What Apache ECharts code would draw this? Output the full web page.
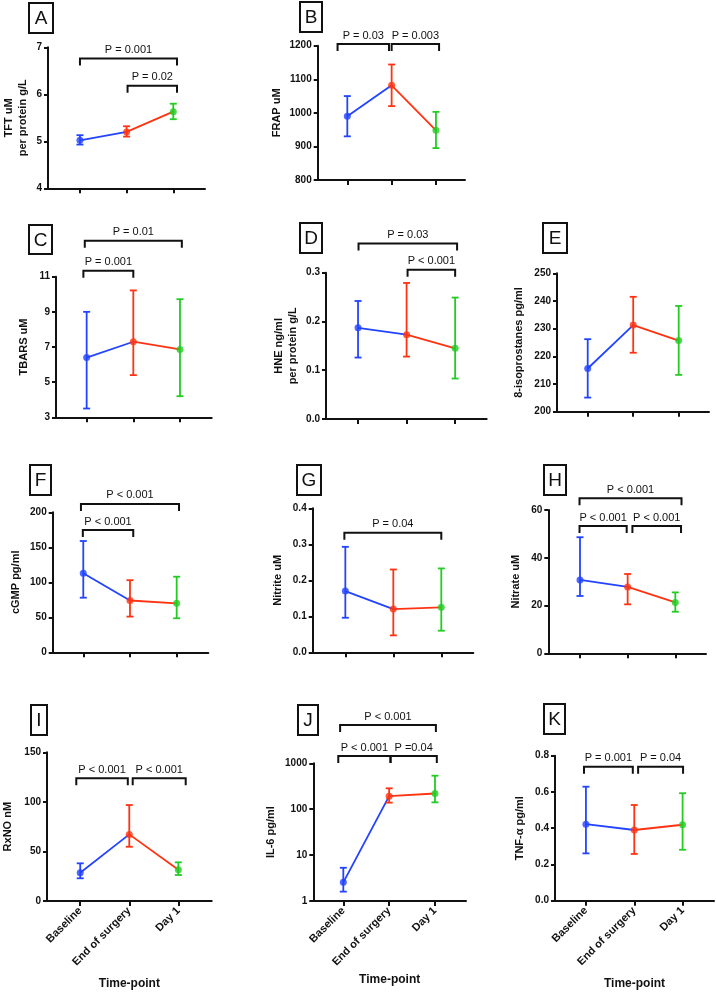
<!DOCTYPE html>
<html><head><meta charset="utf-8">
<script src="https://cdn.jsdelivr.net/npm/echarts@6/dist/echarts.min.js"></script>
<style>html,body{margin:0;padding:0;background:#fff}#c{width:716px;height:992px}</style>
</head><body><div id="c"></div>
<script>
const categories = ['Baseline', 'End of surgery', 'Day 1'];

// A: TFT
const tftMean = [5.02, 5.20, 5.63], tftLow = [4.93, 5.10, 5.47], tftHigh = [5.13, 5.32, 5.80];
const tftP = [[0, 2.08, 6.76, 'P = 0.001'], [1.02, 2.08, 6.18, 'P = 0.02']];
// B: FRAP
const frapMean = [990, 1082, 948], frapLow = [930, 1020, 895], frapHigh = [1050, 1144, 1003];
const frapP = [[-0.22, 0.94, 1205, 'P = 0.03'], [1.0, 2.07, 1205, 'P = 0.003']];
// C: TBARS
const tbarsMean = [6.4, 7.3, 6.86], tbarsLow = [3.5, 5.4, 4.2], tbarsHigh = [9.0, 10.22, 9.72];
const tbarsP = [[-0.07, 1.0, 11.34, 'P = 0.001'], [-0.04, 2.04, 13.05, 'P = 0.01']];
// D: HNE
const hneMean = [0.187, 0.173, 0.145], hneLow = [0.126, 0.128, 0.083], hneHigh = [0.242, 0.279, 0.249];
const hneP = [[1.02, 2.0, 0.306, 'P < 0.001'], [0.01, 2.04, 0.36, 'P = 0.03']];
// E: 8-isoprostanes
const isoMean = [215.6, 231.3, 225.7], isoLow = [205.1, 221.3, 213.3], isoHigh = [226.2, 241.5, 238.2];
const isoP = [];
// F: cGMP
const cgmpMean = [113, 74, 70], cgmpLow = [78, 51, 48.6], cgmpHigh = [159, 103, 108];
const cgmpP = [[-0.01, 1.07, 174.7, 'P < 0.001'], [-0.05, 2.05, 212, 'P < 0.001']];
// G: Nitrite
const nitriteMean = [0.170, 0.120, 0.125], nitriteLow = [0.096, 0.047, 0.060], nitriteHigh = [0.293, 0.230, 0.233];
const nitriteP = [[-0.02, 2.0, 0.332, 'P = 0.04']];
// H: Nitrate
const nitrateMean = [30.7, 27.8, 21.3], nitrateLow = [24, 20.5, 17.4], nitrateHigh = [48.6, 33.2, 25.5];
const nitrateP = [[-0.01, 0.98, 53.3, 'P < 0.001'], [1.1, 2.12, 53.3, 'P < 0.001'], [-0.01, 2.13, 64.9, 'P < 0.001']];
// I: RxNO
const rxnoMean = [28.5, 67.2, 31.5], rxnoLow = [22.9, 54.7, 26.2], rxnoHigh = [38, 96.8, 39];
const rxnoP = [[-0.08, 0.97, 123.7, 'P < 0.001'], [1.07, 2.15, 123.7, 'P < 0.001']];
// J: IL-6
const il6Mean = [2.55, 192, 220], il6Low = [1.6, 139, 141], il6High = [5.3, 285, 537];
const il6P = [[-0.11, 1.03, 1442, 'P < 0.001'], [1.03, 2.04, 1442, 'P =0.04'], [-0.07, 2.02, 6830, 'P < 0.001']];
// K: TNF-alpha
const tnfMean = [0.422, 0.390, 0.419], tnfLow = [0.261, 0.258, 0.281], tnfHigh = [0.629, 0.528, 0.593];
const tnfP = [[-0.04, 0.97, 0.739, 'P = 0.001'], [1.08, 2.01, 0.739, 'P = 0.04']];

const COLORS = ['#2244ff', '#ff3311', '#22cc22'];
const FONT = 'Liberation Sans, Arial, sans-serif';

const panels = [
  {key:'A', mean:tftMean, low:tftLow, high:tftHigh, p:tftP, name:'TFT uM\nper protein g/L', ymin:4, ymax:7, yint:1, dec:0,
   layout:{left:48, top:47.3, width:157, height:141, xmin:-0.685, xmax:2.68, gap:18, box:[29,3,24,30]}},
  {key:'B', mean:frapMean, low:frapLow, high:frapHigh, p:frapP, name:'FRAP uM', ymin:800, ymax:1200, yint:100, dec:0,
   layout:{left:317.7, top:45.7, width:147.3, height:134.3, xmin:-0.668, xmax:2.655, gap:34, box:[300,2,22,30]}},
  {key:'C', mean:tbarsMean, low:tbarsLow, high:tbarsHigh, p:tbarsP, name:'TBARS uM', ymin:3, ymax:11, yint:2, dec:0,
   layout:{left:56, top:276.7, width:155.7, height:140.6, xmin:-0.657, xmax:2.68, gap:25, box:[29,225,23,29]}},
  {key:'D', mean:hneMean, low:hneLow, high:hneHigh, p:hneP, name:'HNE ng/ml\nper protein g/L', ymin:0, ymax:0.3, yint:0.1, dec:1,
   layout:{left:326, top:272.7, width:160.7, height:146.3, xmin:-0.66, xmax:2.65, gap:26, box:[300,223,22,30]}},
  {key:'E', mean:isoMean, low:isoLow, high:isoHigh, p:isoP, name:'8-isoprostanes pg/ml', ymin:200, ymax:250, yint:10, dec:0,
   layout:{left:557, top:273.3, width:152, height:138.4, xmin:-0.675, xmax:2.666, gap:31, box:[543,223,24,30]}},
  {key:'F', mean:cgmpMean, low:cgmpLow, high:cgmpHigh, p:cgmpP, name:'cGMP pg/ml', ymin:0, ymax:200, yint:50, dec:0,
   layout:{left:52.7, top:512.3, width:155.6, height:140, xmin:-0.655, xmax:2.677, gap:30, box:[30,465,21,30]}},
  {key:'G', mean:nitriteMean, low:nitriteLow, high:nitriteHigh, p:nitriteP, name:'Nitrite uM', ymin:0, ymax:0.4, yint:0.1, dec:1,
   layout:{left:312.7, top:508.3, width:160.6, height:144, xmin:-0.68, xmax:2.667, gap:27.5, box:[297,465,24,30]}},
  {key:'H', mean:nitrateMean, low:nitrateLow, high:nitrateHigh, p:nitrateP, name:'Nitrate uM', ymin:0, ymax:60, yint:20, dec:0,
   layout:{left:548.3, top:510, width:157.7, height:143.3, xmin:-0.665, xmax:2.644, gap:25, box:[544,465,22,30]}},
  {key:'I', mean:rxnoMean, low:rxnoLow, high:rxnoHigh, p:rxnoP, name:'RxNO nM', ymin:0, ymax:150, yint:50, dec:0, bottom:true,
   layout:{left:46.7, top:752.3, width:165, height:148.7, xmin:-0.677, xmax:2.68, gap:32, box:[31,705,16,30], xgap:77}},
  {key:'J', mean:il6Mean, low:il6Low, high:il6High, p:il6P, name:'IL-6 pg/ml', ymin:1, ymax:1000, log:true, dec:0, bottom:true,
   layout:{left:313.3, top:763.3, width:152.7, height:137.7, xmin:-0.655, xmax:2.677, gap:35, box:[298,705,20,30], xgap:73}},
  {key:'K', mean:tnfMean, low:tnfLow, high:tnfHigh, p:tnfP, name:'TNF-\u03b1 pg/ml', ymin:0, ymax:0.8, yint:0.2, dec:1, bottom:true,
   layout:{left:555, top:755.7, width:159, height:145, xmin:-0.64, xmax:2.65, gap:28, box:[544,704,21,30], xgap:77}}
];

const grid = [], xAxis = [], yAxis = [], series = [], graphic = [];

function errRender(params, api) {
  const x = api.value(0), lo = api.value(1), hi = api.value(2);
  const a = api.coord([x, lo]), b = api.coord([x, hi]);
  const w = 3.5, c = COLORS[params.dataIndex];
  const st = {stroke: c, lineWidth: 1.8};
  return {type: 'group', children: [
    {type: 'line', shape: {x1: a[0], y1: a[1], x2: b[0], y2: b[1]}, style: st},
    {type: 'line', shape: {x1: a[0] - w, y1: a[1], x2: a[0] + w, y2: a[1]}, style: st},
    {type: 'line', shape: {x1: b[0] - w, y1: b[1], x2: b[0] + w, y2: b[1]}, style: st}
  ]};
}

function bracketRender(list) {
  return function (params, api) {
    const br = list[params.dataIndex];
    const p1 = api.coord([api.value(0), api.value(2)]);
    const p2 = api.coord([api.value(1), api.value(2)]);
    const leg = 7;
    return {type: 'group', children: [
      {type: 'polyline', shape: {points: [[p1[0], p1[1] + leg], [p1[0], p1[1]], [p2[0], p2[1]], [p2[0], p2[1] + leg]]},
       style: {stroke: '#111', lineWidth: 2, fill: null}},
      {type: 'text', x: (p1[0] + p2[0]) / 2, y: p1[1] - 3,
       style: {text: br[3], align: 'center', verticalAlign: 'bottom', font: '11px ' + FONT, fill: '#111'}}
    ]};
  };
}

panels.forEach((pn, i) => {
  const L = pn.layout;
  grid.push({left: L.left, top: L.top, width: L.width, height: L.height});
  xAxis.push({
    type: 'value', gridIndex: i, min: L.xmin, max: L.xmax,
    axisLine: {show: true, onZero: false, lineStyle: {color: '#111', width: 2}},
    axisTick: {show: true, customValues: [0, 1, 2], length: 5, lineStyle: {color: '#111', width: 2}},
    axisLabel: pn.bottom ? {show: true, customValues: [0, 1, 2], formatter: v => categories[Math.round(v)],
      rotate: 45, fontWeight: 'bold', fontSize: 11, fontFamily: FONT, color: '#111', margin: 8} : {show: false},
    splitLine: {show: false},
    name: pn.bottom ? 'Time-point' : '', nameLocation: 'middle', nameGap: L.xgap || 30,
    nameTextStyle: {fontWeight: 'bold', fontSize: 12, fontFamily: FONT, color: '#111'}
  });
  const ya = {
    gridIndex: i, min: pn.ymin, max: pn.ymax,
    axisLine: {show: true, onZero: false, lineStyle: {color: '#111', width: 2}},
    axisTick: {show: true, length: 4, lineStyle: {color: '#111', width: 2}},
    axisLabel: {fontWeight: 'bold', fontSize: 10, fontFamily: FONT, color: '#111', margin: 6,
      formatter: v => pn.dec ? Number(v).toFixed(pn.dec) : String(Math.round(v))},
    splitLine: {show: false},
    name: pn.name, nameLocation: 'middle', nameRotate: 90, nameGap: L.gap,
    nameTextStyle: {fontWeight: 'bold', fontSize: 11, fontFamily: FONT, color: '#111', lineHeight: 14}
  };
  if (pn.log) { ya.type = 'log'; ya.logBase = 10; } else { ya.type = 'value'; ya.interval = pn.yint; }
  yAxis.push(ya);

  series.push({type: 'line', xAxisIndex: i, yAxisIndex: i, data: [[0, pn.mean[0]], [1, pn.mean[1]]],
    showSymbol: false, lineStyle: {color: COLORS[0], width: 1.8}, silent: true, z: 2});
  series.push({type: 'line', xAxisIndex: i, yAxisIndex: i, data: [[1, pn.mean[1]], [2, pn.mean[2]]],
    showSymbol: false, lineStyle: {color: COLORS[1], width: 1.8}, silent: true, z: 2});
  series.push({type: 'custom', xAxisIndex: i, yAxisIndex: i, clip: false, silent: true, z: 3,
    data: pn.mean.map((m, k) => [k, pn.low[k], pn.high[k]]), renderItem: errRender});
  series.push({type: 'scatter', xAxisIndex: i, yAxisIndex: i, symbolSize: 7, silent: true, z: 4,
    data: pn.mean.map((m, k) => ({value: [k, m], itemStyle: {color: COLORS[k]}}))});
  if (pn.p.length) {
    series.push({type: 'custom', xAxisIndex: i, yAxisIndex: i, clip: false, silent: true, z: 5,
      data: pn.p.map(b => [b[0], b[1], b[2]]), renderItem: bracketRender(pn.p)});
  }
  const bx = L.box;
  graphic.push({type: 'rect', shape: {x: bx[0], y: bx[1], width: bx[2], height: bx[3]},
    style: {fill: '#fff', stroke: '#111', lineWidth: 2}});
  graphic.push({type: 'text', x: bx[0] + bx[2] / 2, y: bx[1] + bx[3] / 2 + 1,
    style: {text: pn.key, align: 'center', verticalAlign: 'middle', font: '19px ' + FONT, fill: '#111'}});
});

const chart = echarts.init(document.getElementById('c'), null, {renderer: 'canvas'});
chart.setOption({animation: false, backgroundColor: '#fff', grid, xAxis, yAxis, series, graphic});
</script></body></html>
